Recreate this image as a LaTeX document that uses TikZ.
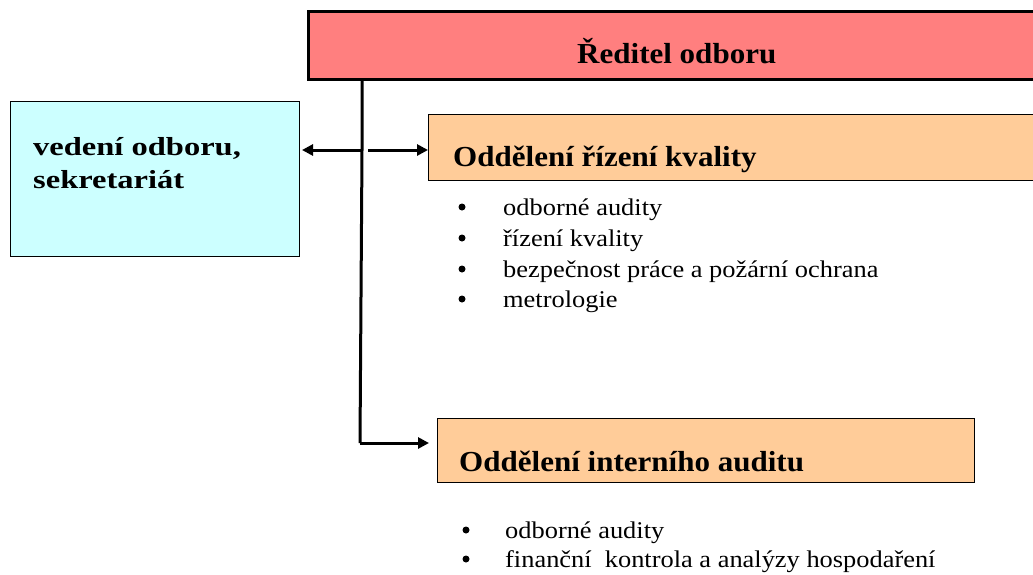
\documentclass[tikz,border=0pt]{standalone}
\usepackage{fontspec}
\setmainfont{Liberation Serif}
\newfontfamily\bulfont[FakeStretch=1.1]{Liberation Serif}
\newfontfamily\titfont[FakeStretch=1.07]{Liberation Serif}
\newfontfamily\lbfont[FakeStretch=1.25]{Liberation Serif}
\usetikzlibrary{arrows.meta}
\begin{document}
\begin{tikzpicture}[x=1pt,y=-1pt,
  boxline/.style={draw=black, line width=0.8pt},
  conn/.style={line width=3pt, -{Triangle[length=11pt,width=11pt]}},
  bul/.style={anchor=base west, inner sep=0pt, font=\bulfont\fontsize{24}{28}\selectfont},
  dot/.style={circle, fill=black, inner sep=0pt, minimum size=7pt},
  tit/.style={anchor=base west, inner sep=0pt, font=\titfont\fontsize{29}{33}\selectfont\bfseries}]
\useasboundingbox (0,0) rectangle (1033,574);
% top box
\path[fill={rgb,255:red,255;green,127;blue,127}, draw=black, line width=3pt] (308,11) rectangle (1045,79);
\node (dir) [tit] at (577,63) {Ředitel odboru};
\coordinate (dirb) at (362,79);
% left box
\path[fill={rgb,255:red,204;green,255;blue,255}, boxline] (10,101) rectangle (299,256);
\node (vo1) [anchor=base west, inner sep=0pt, font=\lbfont\fontsize{26}{33}\selectfont\bfseries] at (33,155) {vedení odboru,};
\node (vo2) [anchor=base west, inner sep=0pt, font=\lbfont\fontsize{26}{33}\selectfont\bfseries] at (33,188) {sekretariát};
\coordinate (voe) at (302,150);
% kvality box
\path[fill={rgb,255:red,255;green,204;blue,153}, boxline] (428,114) rectangle (1045,180);
\begin{scope}
\clip (428,114) rectangle (1045,180);
\node (kv) [tit] at (453,166) {Oddělení řízení kvality};
\end{scope}
\coordinate (kvw) at (428,150);
% audit box
\path[fill={rgb,255:red,255;green,204;blue,153}, boxline] (437,418) rectangle (974,482);
\node (ia) [tit] at (459,471) {Oddělení interního auditu};
\coordinate (iaw) at (437,443);
% connectors
\coordinate (j1) at (362,150);
\coordinate (j2) at (360,443);
\draw[line width=3pt] (dirb) -- (j1) -- (j2);
\draw[conn] (j1) -- (voe);
\draw[conn] ([xshift=6pt]j1) -- (kvw);
\draw[conn] (j2) -- ([xshift=-8pt]iaw);
% bullets
\foreach \y/\t in {215/odborné audity, 246/řízení kvality, 277/bezpečnost práce a požární ochrana, 307/metrologie}{
  \node[dot] at (462,\y-8) {};
  \node[bul] at (503,\y) {\t};
}
\foreach \y/\t in {538/odborné audity, 567/{finanční\ \ kontrola a analýzy hospodaření}}{
  \node[dot] at (466,\y-8) {};
  \node[bul] at (505,\y) {\t};
}
\end{tikzpicture}
\end{document}
